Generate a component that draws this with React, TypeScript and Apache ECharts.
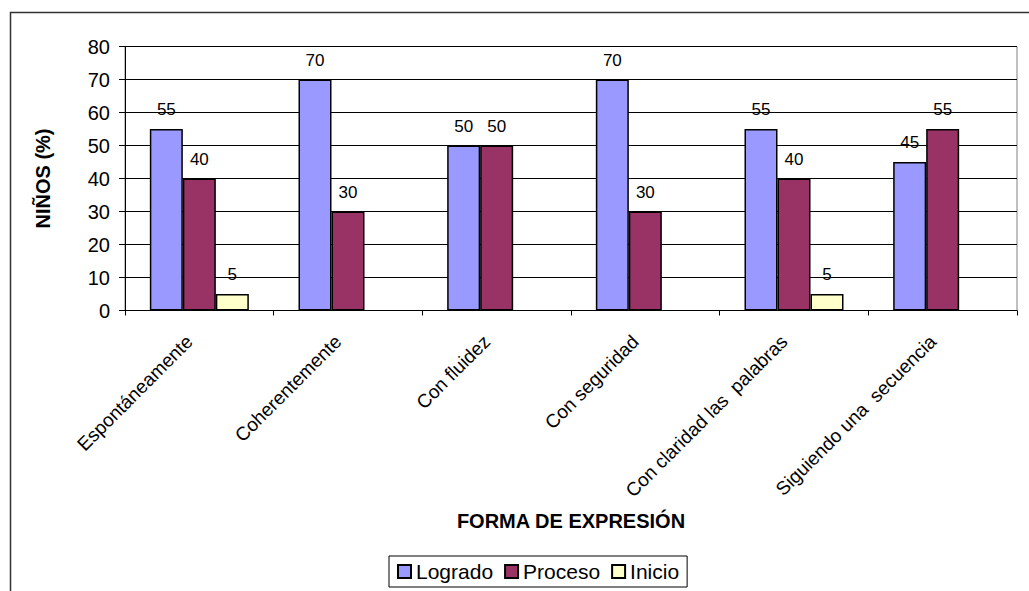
import React, { useEffect, useRef } from "react";
import * as echarts from "echarts";

const categories = [
  "Espontáneamente",
  "Coherentemente",
  "Con fluidez",
  "Con seguridad",
  "Con claridad las  palabras",
  "Siguiendo una  secuencia",
];
const logrado = [55, 70, 50, 70, 55, 45];
const proceso = [40, 30, 50, 30, 40, 55];
const inicio = [5, null, null, null, 5, null];
const seriesNames = ["Logrado", "Proceso", "Inicio"];
const seriesColors = ["#9999FF", "#993366", "#FFFFCC"];

const FONT = "'Liberation Sans', Arial, sans-serif";

export default function App() {
  const ref = useRef<HTMLDivElement>(null);
  useEffect(() => {
    if (!ref.current) return;
    const chart = echarts.init(ref.current, null, { renderer: "svg" });
    const values = [logrado, proceso, inicio];
    chart.setOption({
      animation: false,
      backgroundColor: "#ffffff",
      textStyle: { fontFamily: FONT, color: "#000" },
      graphic: [
        {
          type: "polyline",
          shape: { points: [[10.5, 600], [10.5, 12.5], [1040, 12.5]] },
          style: { stroke: "#333333", lineWidth: 1.5, fill: null },
          silent: true,
        },
      ],
      grid: {
        left: 125,
        top: 46.5,
        right: 12,
        bottom: 280.5,
        show: true,
        borderColor: "#808080",
        borderWidth: 1,
        containLabel: false,
      },
      legend: {
        data: seriesNames,
        left: 389,
        top: 556,
        orient: "horizontal",
        padding: [5, 8, 5, 8],
        itemGap: 11,
        itemWidth: 13,
        itemHeight: 13,
        borderColor: "#000",
        borderWidth: 1,
        selectedMode: false,
        icon: "rect",
        textStyle: { fontFamily: FONT, fontSize: 21, color: "#000" },
      },
      xAxis: {
        type: "category",
        data: categories,
        name: "FORMA DE EXPRESIÓN",
        nameLocation: "middle",
        nameGap: 200,
        nameTextStyle: { fontFamily: FONT, fontSize: 20, fontWeight: "bold", color: "#000" },
        axisLine: { lineStyle: { color: "#000", width: 1 } },
        axisTick: { show: true, length: 5, alignWithLabel: false, lineStyle: { color: "#000" } },
        axisLabel: {
          rotate: 45,
          interval: 0,
          margin: 18,
          padding: [0, 14, 0, 0],
          fontFamily: FONT,
          fontSize: 19,
          color: "#000",
        },
        splitLine: { show: false },
      },
      yAxis: {
        type: "value",
        min: 0,
        max: 80,
        interval: 10,
        name: "NIÑOS (%)",
        nameLocation: "middle",
        nameGap: 72,
        nameRotate: 90,
        nameTextStyle: { fontFamily: FONT, fontSize: 20, fontWeight: "bold", color: "#000" },
        axisLine: { show: true, lineStyle: { color: "#000", width: 1 } },
        axisTick: { show: true, length: 6, lineStyle: { color: "#000" } },
        axisLabel: { margin: 15, fontFamily: FONT, fontSize: 20, color: "#000" },
        splitLine: { show: true, lineStyle: { color: "#000", width: 1 } },
      },
      series: seriesNames.map((name, i) => ({
        name,
        type: "bar",
        data: values[i],
        barWidth: 33,
        barGap: "0%",
        itemStyle: { color: seriesColors[i], borderColor: "#000", borderWidth: 1.5 },
        label: {
          show: true,
          position: "top",
          distance: 11,
          fontFamily: FONT,
          fontSize: 17,
          color: "#000",
        },
      })),
    });
    return () => chart.dispose();
  }, []);
  return (
    <div
      ref={ref}
      style={{ position: "fixed", left: 0, top: 0, width: 1029, height: 591, background: "#fff" }}
    />
  );
}
